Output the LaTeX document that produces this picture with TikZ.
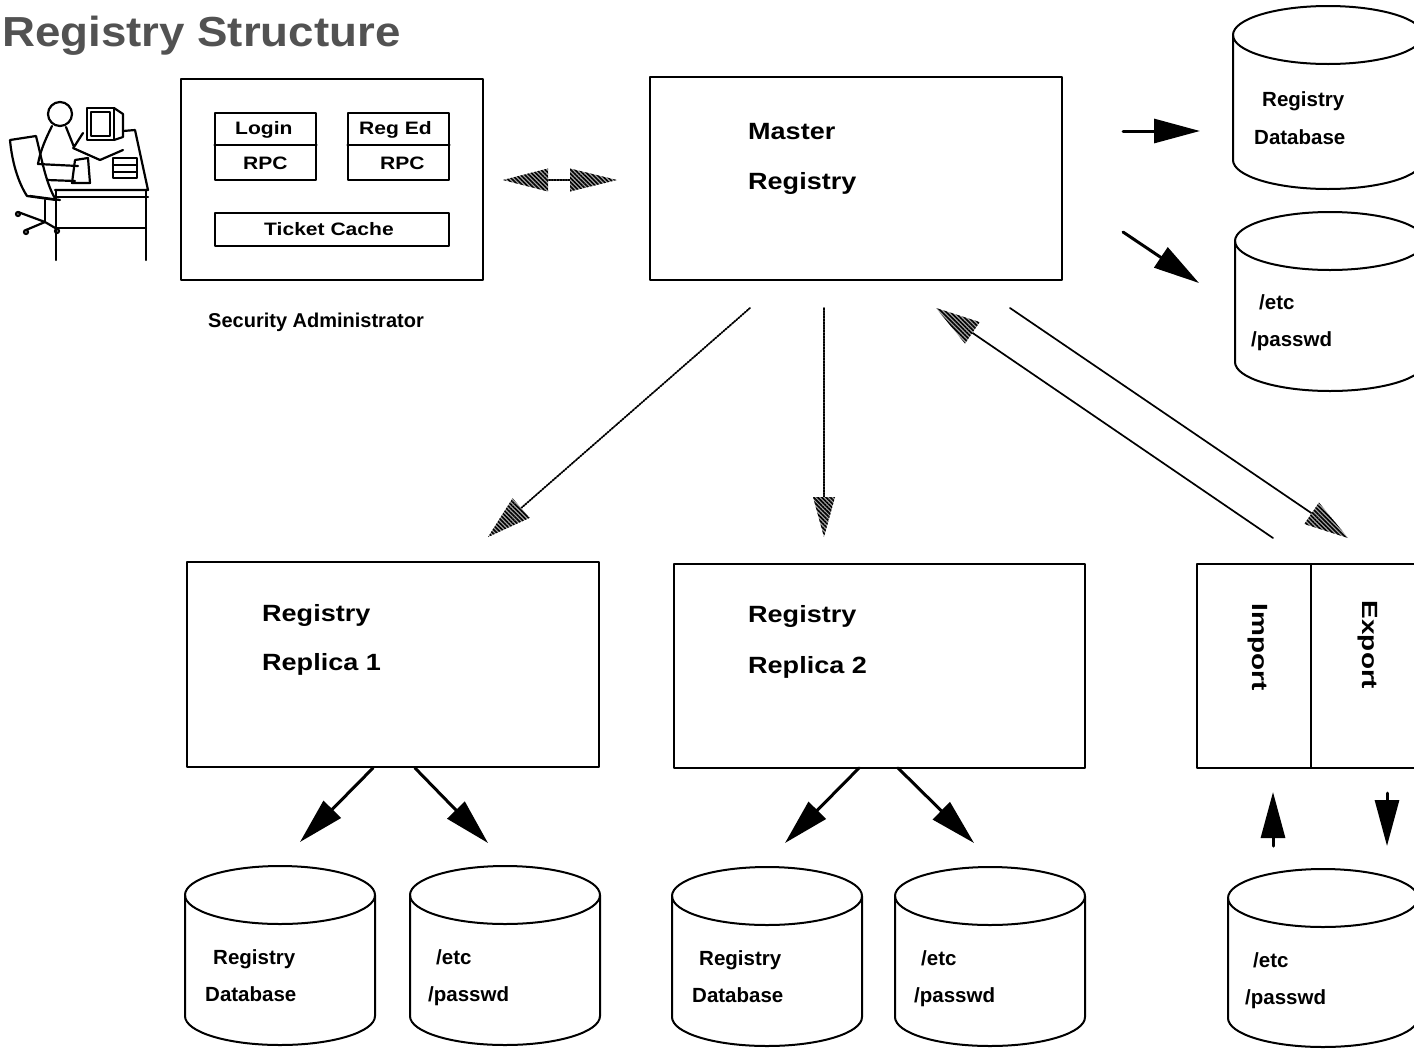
\documentclass[tikz,border=0pt]{standalone}
\usepackage{fontspec}
\setmainfont{Liberation Sans}
\newfontfamily\titlefam{Liberation Sans Bold}[FakeStretch=1.087]
\newfontfamily\bigfam{Liberation Sans Bold}[FakeStretch=1.15]
\newfontfamily\smallfam{Liberation Sans Bold}[FakeStretch=1.17]
\newfontfamily\cylfam{Liberation Sans Bold}
\newfontfamily\vertfam{Liberation Sans Bold}[FakeStretch=1.27]
\newcommand\ftitle{\titlefam\fontsize{42}{48}\selectfont}
\newcommand\fbig{\bigfam\fontsize{23.5}{28}\selectfont}
\newcommand\fsmall{\smallfam\fontsize{18}{22}\selectfont}
\newcommand\fcyl{\cylfam\fontsize{20.5}{24}\selectfont}
\newcommand\fcap{\cylfam\fontsize{20}{24}\selectfont}
\newcommand\fvert{\vertfam\fontsize{22}{26}\selectfont}
\usetikzlibrary{arrows.meta,calc,patterns.meta}

% hatched arrow head: tail point, tip point, length, half width
\newcommand\hatchhead[4]{%
  \fill[hatch] (#2) -- ($(#2)!#3!(#1)!#4!90:(#2)$) -- ($(#2)!#3!(#1)!#4!-90:(#2)$) -- cycle;}

% database cylinder: name, left x, centre y of the top ellipse, bottom y of the side
\newcommand\dbcyl[4]{%
  \draw[cylline] ({#2+95},#3) ellipse [x radius=95, y radius=29];
  \draw[cylline] (#2,#3) -- (#2,#4) arc[start angle=180,end angle=0,x radius=95,y radius=29] -- ({#2+190},#3);
  \coordinate (#1) at ({#2+95},{(#3+#4)/2});}

\begin{document}
\begin{tikzpicture}[x=1pt,y=-1pt,line join=round,line cap=round,
  frame/.style={draw,line width=2pt,inner sep=0pt},
  inbox/.style={draw,line width=1.6pt,inner sep=0pt},
  lbl/.style={anchor=base west,inner sep=0pt},
  bigtxt/.style={lbl,font=\fbig},
  smalltxt/.style={lbl,font=\fsmall},
  cyltxt/.style={lbl,font=\fcyl},
  solidarrow/.style={line width=3pt,-{Triangle[length=46pt,width=24pt]}},
  hatch/.style={preaction={fill=black!35},pattern={Lines[angle=-45,distance=3pt,line width=1.6pt]}},
  dotline/.style={line width=1.8pt,dash pattern=on 1.6pt off 1.2pt},
  thinline/.style={line width=1.7pt},
  cylline/.style={line width=2pt},
  sketch/.style={line width=2.2pt}]

\useasboundingbox (0,0) rectangle (1414,1050);
\fill[white] (0,0) rectangle (1414,1050);
\clip (0,0) rectangle (1414,1050);

% title
\node[lbl,font=\ftitle,text=black!68] (title) at (2,46) {Registry Structure};

% administrator at the desk
\begin{scope}[sketch]
  % chair
  \draw (10,140) -- (36,136) .. controls (42,160) and (46,184) .. (56,200) -- (27,196) .. controls (18,182) and (12,162) .. cycle;
  \draw (30,196) -- (60,200);
  \draw (45,200) -- (45,222);
  \draw (18,212) -- (45,222) -- (57,229);
  \draw (26,230) -- (45,222);
  \draw (18,214) circle (2); \draw (26,232) circle (2); \draw (57,231) circle (2);
  % person
  \draw (60,114) circle (12);
  \draw (52,126) .. controls (45,140) and (40,152) .. (38,164);
  \draw (66,127) -- (74,147) -- (83,133);
  \draw (38,164) -- (78,166);
  \draw (47,180) -- (75,181);
  \draw (75,160) -- (88,158) -- (90,183) -- (72,183) -- cycle;
  % monitor and keyboard
  \draw (87,108) rectangle (114,140);
  \draw (91,112) rectangle (110,136);
  \draw (114,108) -- (123,114) -- (123,137) -- (114,140);
  \draw (73,148) -- (100,160);
  % desk
  \draw (55,190) -- (148,190) -- (135,130) -- (123,131);
  \draw (100,160) -- (123,150);
  \draw (55,197) -- (148,197);
  \draw (56,190) -- (56,260);
  \draw (146,190) -- (146,260);
  \draw (56,228) -- (146,228);
  \draw (113,158) rectangle (137,178);
  \draw (113,165) -- (137,165);
  \draw (113,172) -- (137,172);
\end{scope}

% security administrator workstation
\node[frame,minimum width=302pt,minimum height=201pt] (secadm) at (332,179.5) {};
\node[inbox,minimum width=101pt,minimum height=67pt] (login) at (265.5,146.5) {};
\node[inbox,minimum width=101pt,minimum height=67pt] (reged) at (398.5,146.5) {};
\draw[line width=1.6pt] (login.west |- 0,145) -- (login.east |- 0,145);
\draw[line width=1.6pt] (reged.west |- 0,145) -- (reged.east |- 0,145);
\node[inbox,minimum width=234pt,minimum height=33pt] (ticket) at (332,229.5) {};
\node[smalltxt] (tlogin) at (235,134) {Login};
\node[smalltxt] (trpc1) at (243,169) {RPC};
\node[smalltxt] (treged) at (359,134) {Reg Ed};
\node[smalltxt] (trpc2) at (380,169) {RPC};
\node[smalltxt] (tticket) at (264,235) {Ticket Cache};
\node[lbl,font=\fcap] (tsec) at (208,327) {Security Administrator};

% master registry
\node[frame,minimum width=412pt,minimum height=203pt] (master) at (856,178.5) {};
\node[bigtxt] (tmaster) at (748,139) {Master};
\node[bigtxt] (tmreg) at (748,189) {Registry};

% replicas
\node[frame,minimum width=412pt,minimum height=205pt] (rep1) at (393,664.5) {};
\node[bigtxt] (tr1a) at (262,621) {Registry};
\node[bigtxt] (tr1b) at (262,670) {Replica 1};
\node[frame,minimum width=411pt,minimum height=204pt] (rep2) at (879.5,666) {};
\node[bigtxt] (tr2a) at (748,622) {Registry};
\node[bigtxt] (tr2b) at (748,673) {Replica 2};

% import / export
\node[frame,minimum width=114pt,minimum height=204pt] (imp) at (1254,666) {};
\node[frame,minimum width=129pt,minimum height=204pt] (exp) at (1375.5,666) {};
\node[rotate=-90,inner sep=0pt,font=\fvert] (timp) at (1258,647) {Import};
\node[rotate=-90,inner sep=0pt,font=\fvert] (texp) at (1368,645) {Export};

% databases
\dbcyl{dbm}{1233}{35}{160}
\node[cyltxt] (tdbm1) at (1262,106) {Registry};
\node[cyltxt] (tdbm2) at (1254,144) {Database};
\dbcyl{pwm}{1235}{241}{362}
\node[cyltxt] (tpwm1) at (1259,309) {/etc};
\node[cyltxt] (tpwm2) at (1251,346) {/passwd};
\dbcyl{db1}{185}{895}{1016}
\node[cyltxt] (tdb1a) at (213,964) {Registry};
\node[cyltxt] (tdb1b) at (205,1001) {Database};
\dbcyl{pw1}{410}{895}{1016}
\node[cyltxt] (tpw1a) at (436,964) {/etc};
\node[cyltxt] (tpw1b) at (428,1001) {/passwd};
\dbcyl{db2}{672}{896}{1017}
\node[cyltxt] (tdb2a) at (699,965) {Registry};
\node[cyltxt] (tdb2b) at (692,1002) {Database};
\dbcyl{pw2}{895}{896}{1017}
\node[cyltxt] (tpw2a) at (921,965) {/etc};
\node[cyltxt] (tpw2b) at (914,1002) {/passwd};
\dbcyl{pw3}{1228}{898}{1018}
\node[cyltxt] (tpw3a) at (1253,967) {/etc};
\node[cyltxt] (tpw3b) at (1245,1004) {/passwd};

% connector end points
\coordinate (sL) at (503,180);
\coordinate (sR) at (617,180);
\coordinate (sLb) at (546,180);
\coordinate (sRb) at (572,180);
\coordinate (m1) at (750,308);
\coordinate (r1t) at (488,537);
\coordinate (m2) at (824,308);
\coordinate (r2t) at (824,537);
\coordinate (ia) at (1273,538);
\coordinate (it) at (936,308);
\coordinate (ea) at (1010,308);
\coordinate (et) at (1348,538);
\coordinate (dbA) at (1123,131);
\coordinate (dbB) at (1200,131);
\coordinate (pwA) at (1123,232);
\coordinate (pwB) at (1199,283);
\coordinate (r1a) at (373,768);
\coordinate (r1da) at (300,842);
\coordinate (r1b) at (415,768);
\coordinate (r1pw) at (488,843);
\coordinate (r2a) at (859,768);
\coordinate (r2da) at (785,843);
\coordinate (r2b) at (898,768);
\coordinate (r2pw) at (974,843);
\coordinate (ipA) at (1273,846);
\coordinate (ipB) at (1273,792);
\coordinate (exA) at (1387,793);
\coordinate (exB) at (1387,846);

% workstation <-> master
\draw[dotline] (sLb) -- (sRb);
\hatchhead{sR}{sL}{45pt}{11.5pt}
\hatchhead{sL}{sR}{47pt}{11.5pt}

% master -> replicas, import / export channel
\draw[dotline,shorten >=38pt] (m1) -- (r1t);
\hatchhead{m1}{r1t}{44pt}{13pt}
\draw[dotline,shorten >=36pt] (m2) -- (r2t);
\hatchhead{m2}{r2t}{40pt}{11pt}
\draw[thinline,shorten >=38pt] (ia) -- (it);
\hatchhead{ia}{it}{44pt}{13pt}
\draw[thinline,shorten >=38pt] (ea) -- (et);
\hatchhead{ea}{et}{44pt}{13pt}

% solid arrows to the databases
\draw[solidarrow] (dbA) -- (dbB);
\draw[solidarrow] (pwA) -- (pwB);
\draw[solidarrow] (r1a) -- (r1da);
\draw[solidarrow] (r1b) -- (r1pw);
\draw[solidarrow] (r2a) -- (r2da);
\draw[solidarrow] (r2b) -- (r2pw);
\draw[solidarrow] (ipA) -- (ipB);
\draw[solidarrow] (exA) -- (exB);
\end{tikzpicture}
\end{document}
